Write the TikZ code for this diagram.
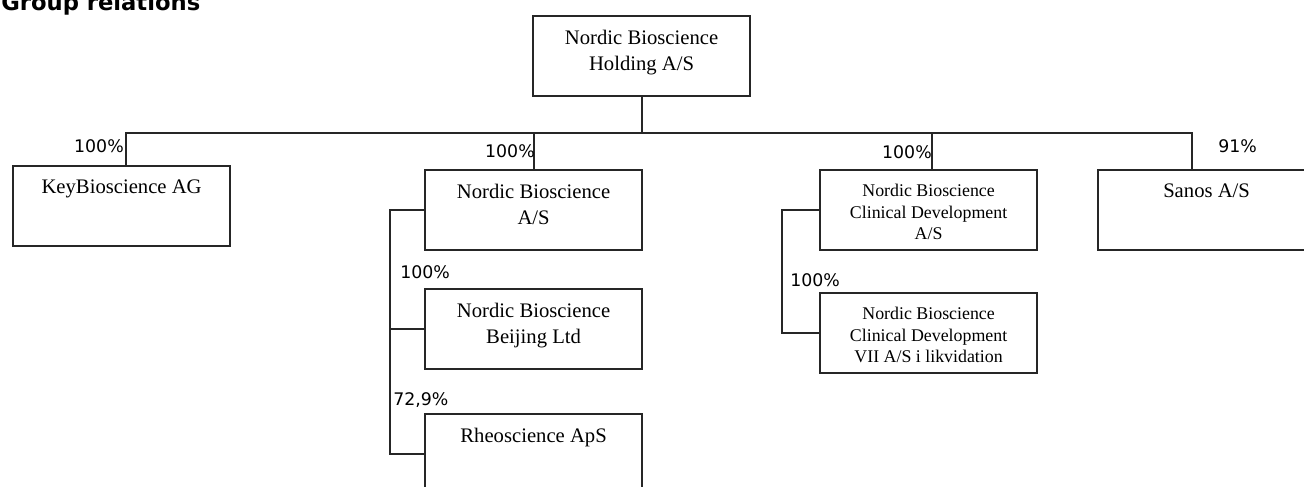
\documentclass[tikz,border=0pt]{standalone}
\usepackage{fontspec}
\setmainfont{Liberation Serif}
\newfontfamily\pctfont{DejaVu Sans}
\newfontfamily\headfont{DejaVu Sans}
\newcommand{\firmtext}[1]{\parbox[c][39pt][t]{163pt}{\centering #1}}

\begin{document}
\begin{tikzpicture}[x=0.75pt, y=-0.75pt,
    firm/.style={draw=black!85, line width=1.4pt, inner xsep=0pt, inner ysep=10.5pt,
      anchor=north west, font=\fontsize{15.5}{20}\selectfont},
    firmsmall/.style={firm, font=\fontsize{13.4}{16.3}\selectfont},
    pct/.style={inner sep=0pt, font=\pctfont\fontsize{13}{15}\selectfont},
    wire/.style={draw=black!85, line width=1.4pt}]
  \useasboundingbox (0,0) rectangle (1304,486);
  \node[anchor=base west, inner sep=0pt, font=\headfont\bfseries\fontsize{17}{20}\selectfont]
    (title) at (1,10) {Group relations};

  %% companies
  \node[firm] (hold) at (532,15) {\firmtext{Nordic Bioscience\\Holding A/S}};
  \node[firm] (key) at (12,165) {\firmtext{KeyBioscience AG}};
  \node[firm] (nbas) at (424,169) {\firmtext{Nordic Bioscience\\A/S}};
  \node[firmsmall] (cd) at (819,169) {\firmtext{Nordic Bioscience\\Clinical Development\\A/S}};
  \node[firm] (sanos) at (1097,169) {\firmtext{Sanos A/S}};
  \node[firm] (beij) at (424,288) {\firmtext{Nordic Bioscience\\Beijing Ltd}};
  \node[firm] (rheo) at (424,413) {\firmtext{Rheoscience ApS}};
  \node[firmsmall] (cdvii) at (819,292) {\firmtext{Nordic Bioscience\\Clinical Development\\VII A/S i likvidation}};

  %% ownership lines
  \coordinate (dk) at (126,133);
  \coordinate (dn) at (534,133);
  \coordinate (dc) at (932,133);
  \coordinate (ds) at (1192,133);
  \coordinate (sa) at (390,0);
  \coordinate (sc) at (782,0);
  \draw[wire] (hold.south) -- (hold.south |- dk);
  \draw[wire] (dk |- key.north) -- (dk) -- (ds) -- (ds |- sanos.north);
  \draw[wire] (dn) -- (dn |- nbas.north);
  \draw[wire] (dc) -- (dc |- cd.north);
  \draw[wire] (nbas.west) -| (sa |- rheo.west) -- (rheo.west);
  \draw[wire] (beij.west) -- (sa |- beij.west);
  \draw[wire] (cd.west) -| (sc |- cdvii.west) -- (cdvii.west);

  %% shares
  \node[pct, anchor=east] (pkey) at (124,146) {100\%};
  \node[pct, anchor=east] (pnbas) at (535,151) {100\%};
  \node[pct, anchor=east] (pcd) at (932,152) {100\%};
  \node[pct, anchor=west] (psanos) at (1218,146) {91\%};
  \node[pct, anchor=west] (pbeij) at (400,272) {100\%};
  \node[pct, anchor=west] (prheo) at (393,400) {72,9\%};
  \node[pct, anchor=west] (pcdvii) at (790,280) {100\%};
\end{tikzpicture}
\end{document}
